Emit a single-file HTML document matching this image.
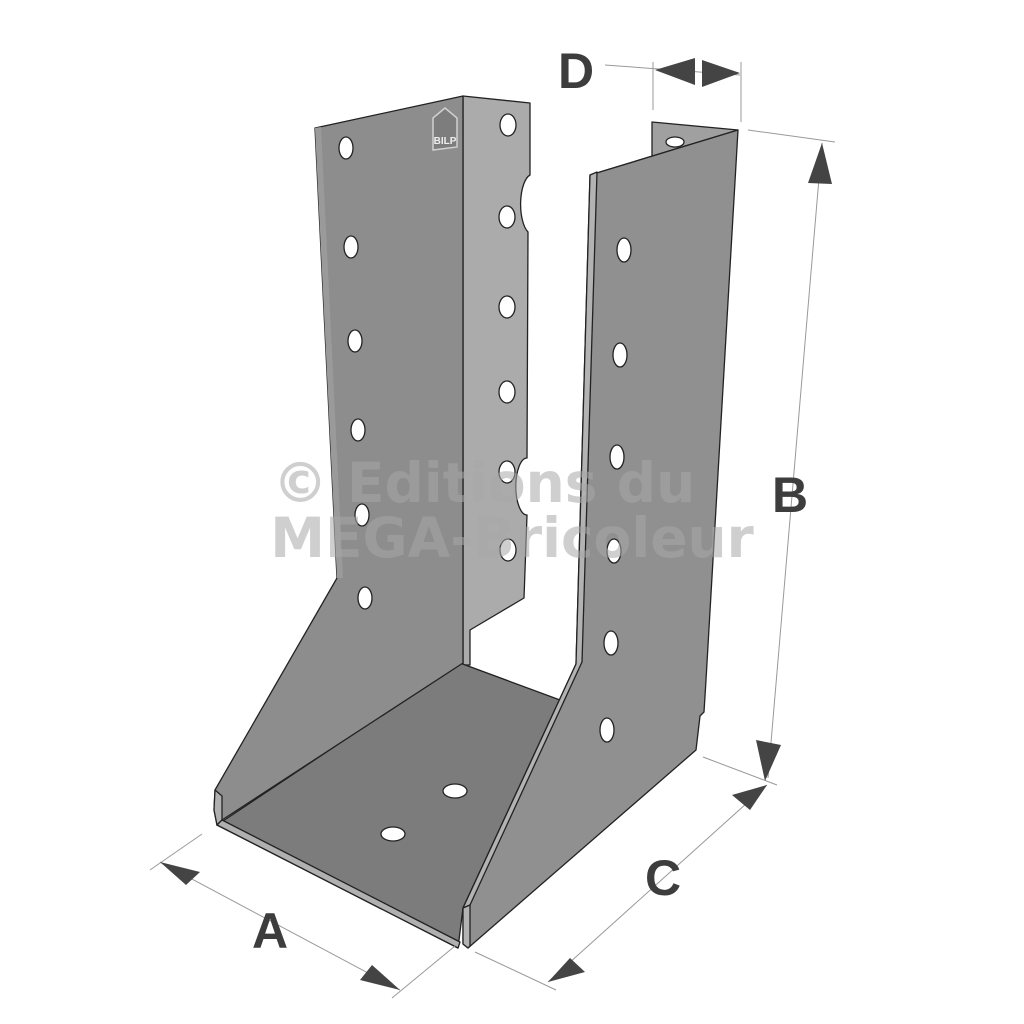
<!DOCTYPE html>
<html><head><meta charset="utf-8"><style>
html,body{margin:0;padding:0;background:#fff;width:1024px;height:1024px;overflow:hidden}
svg{display:block}
</style></head><body>
<svg width="1024" height="1024" viewBox="0 0 1024 1024" xmlns="http://www.w3.org/2000/svg">
<g stroke="#222" stroke-width="1.3" stroke-linejoin="round">
<!-- right back flange -->
<polygon points="652,122 738,130 600,172 652,160" fill="#a0a0a0"/>
<ellipse cx="675" cy="142" rx="9" ry="5" fill="#fff"/>
<!-- left flange -->
<path d="M463,96 L530,103 L530,175 A12,30 0 0 0 528,232 L527,458 A11,28 0 0 0 527,515 L524,598 L470,630 L470,665 L463,665 Z" fill="#ababab"/>
<!-- floor -->
<polygon points="460,663 560,700 463,908 458,948 217,825" fill="#7c7c7c"/>
<!-- left plate -->
<polygon points="315,128 463,96 463,663 222,820 217,825 214,810 215,790 337,578" fill="#8d8d8d"/>
<polygon points="215,790 222,796 222,820 217,825 214,810" fill="#b0b0b0"/>
<polygon points="222,820 460,942 458,948 217,825" fill="#b0b0b0"/>
<polygon points="315,128 321,127 343,578 337,578" fill="#9a9a9a" stroke="none"/>
<!-- right plate -->
<polygon points="590,175 738,130 706,680 704,712 700,716 696,750 468,948 463,944 463,908 576,664" fill="#909090"/>
<polygon points="590,175 597,172 582,662 470,905 463,908 576,664" fill="#b3b3b3"/>
<polygon points="463,908 470,905 470,946 468,948 463,944" fill="#b3b3b3"/>
</g>
<!-- holes -->
<g fill="#fff" stroke="#222" stroke-width="1.3">
<ellipse cx="346" cy="148" rx="7" ry="11"/>
<ellipse cx="351" cy="247" rx="7" ry="11"/>
<ellipse cx="355" cy="341" rx="7" ry="11"/>
<ellipse cx="358" cy="430" rx="7" ry="11"/>
<ellipse cx="362" cy="515" rx="7" ry="11"/>
<ellipse cx="365" cy="598" rx="7" ry="11"/>
<ellipse cx="508" cy="125" rx="8" ry="11"/>
<ellipse cx="507" cy="217" rx="8" ry="11"/>
<ellipse cx="507" cy="307" rx="8" ry="11"/>
<ellipse cx="507" cy="392" rx="8" ry="11"/>
<ellipse cx="507" cy="472" rx="8" ry="11"/>
<ellipse cx="508" cy="550" rx="8" ry="11"/>
<ellipse cx="624" cy="250" rx="7" ry="12"/>
<ellipse cx="620" cy="355" rx="7" ry="12"/>
<ellipse cx="617" cy="457" rx="7" ry="12"/>
<ellipse cx="614" cy="551" rx="7" ry="12"/>
<ellipse cx="611" cy="643" rx="7" ry="12"/>
<ellipse cx="607" cy="730" rx="7" ry="12"/>
<ellipse cx="393" cy="834" rx="12" ry="7"/>
<ellipse cx="455" cy="791" rx="12" ry="7"/>
</g>
<!-- BILP logo -->
<polygon points="433,118 445,108 457,118 457,147 433,150" fill="#7d7d7d" stroke="#d0d0d0" stroke-width="1.5"/>
<text x="445" y="144" font-family="Liberation Sans,sans-serif" font-size="10" font-weight="bold" fill="#eee" text-anchor="middle">BILP</text>
<!-- dimension lines -->
<g stroke="#999" stroke-width="1" fill="none">
<line x1="748" y1="130" x2="835" y2="142"/>
<line x1="822" y1="143" x2="768" y2="778"/>
<line x1="703" y1="757" x2="777" y2="785"/>
<line x1="767" y1="785" x2="548" y2="982"/>
<line x1="475" y1="952" x2="556" y2="990"/>
<line x1="150" y1="870" x2="202" y2="834"/>
<line x1="160" y1="862" x2="400" y2="990"/>
<line x1="392" y1="998" x2="455" y2="946"/>
<line x1="605" y1="65" x2="740" y2="75"/>
<line x1="653" y1="62" x2="653" y2="110"/>
<line x1="741" y1="62" x2="741" y2="122"/>
</g>
<g fill="#444">
<polygon points="822,143 808,183 832,184"/>
<polygon points="765,781 756,740 781,745"/>
<polygon points="767,785 732,795 750,810"/>
<polygon points="548,982 570,958 585,972"/>
<polygon points="160,862 200,872 186,885"/>
<polygon points="400,990 360,980 372,965"/>
<polygon points="655,70 695,58 695,85"/>
<polygon points="740,73 702,60 702,87"/>
</g>
<g font-family="Liberation Sans,DejaVu Sans,sans-serif" font-weight="bold" fill="#3d3d3d" font-size="50">
<text x="558" y="88">D</text>
<text x="772" y="512">B</text>
<text x="645" y="895">C</text>
<text x="252" y="948">A</text>
</g>
<g font-family="DejaVu Sans,Liberation Sans,sans-serif" font-weight="bold" fill="#a8a8a8" opacity="0.55" font-size="55" text-anchor="middle">
<text x="484" y="502">© Editions du</text>
<text x="512" y="557">MEGA-Bricoleur</text>
</g>
</svg>
</body></html>
